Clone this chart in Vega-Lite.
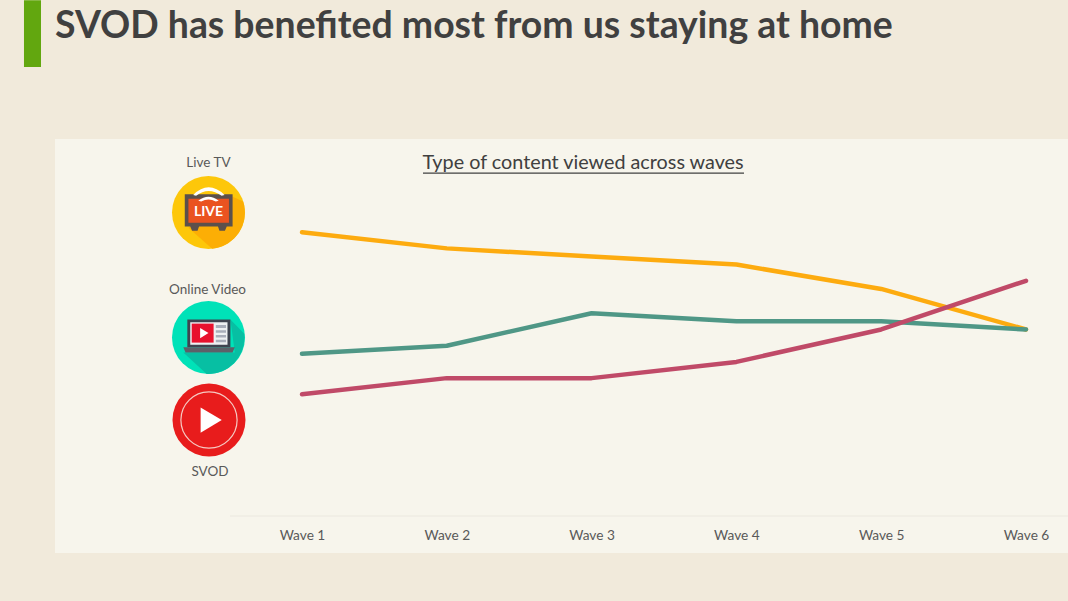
{
  "$schema": "https://vega.github.io/schema/vega-lite/v6.json",
  "description": "Type of content viewed across waves",
  "width": 1013,
  "height": 414,
  "autosize": {"type": "none"},
  "padding": {"left": 55, "top": 139, "right": 0, "bottom": 48},
  "background": "#f1eadb",
  "title": {
    "text": "SVOD has benefited most from us staying at home",
    "anchor": "start",
    "frame": "group",
    "offset": -75,
    "baseline": "alphabetic",
    "font": "Lato",
    "fontWeight": "bold",
    "fontSize": 37.4,
    "color": "#404040"
  },
  "datasets": {
    "waves": [
      {"wave": 1, "series": "Live TV", "share": 35},
      {"wave": 2, "series": "Live TV", "share": 33},
      {"wave": 3, "series": "Live TV", "share": 32},
      {"wave": 4, "series": "Live TV", "share": 31},
      {"wave": 5, "series": "Live TV", "share": 28},
      {"wave": 6, "series": "Live TV", "share": 23},
      {"wave": 1, "series": "Online Video", "share": 20},
      {"wave": 2, "series": "Online Video", "share": 21},
      {"wave": 3, "series": "Online Video", "share": 25},
      {"wave": 4, "series": "Online Video", "share": 24},
      {"wave": 5, "series": "Online Video", "share": 24},
      {"wave": 6, "series": "Online Video", "share": 23},
      {"wave": 1, "series": "SVOD", "share": 15},
      {"wave": 2, "series": "SVOD", "share": 17},
      {"wave": 3, "series": "SVOD", "share": 17},
      {"wave": 4, "series": "SVOD", "share": 19},
      {"wave": 5, "series": "SVOD", "share": 23},
      {"wave": 6, "series": "SVOD", "share": 29}
    ],
    "one": [{}]
  },
  "encoding": {
    "x": {
      "type": "quantitative",
      "scale": {"domain": [-0.7058, 6.2901], "nice": false, "zero": false},
      "axis": {
        "orient": "bottom",
        "title": null,
        "values": [1, 2, 3, 4, 5, 6],
        "labelExpr": "'Wave ' + datum.value",
        "domain": false,
        "ticks": false,
        "grid": false,
        "offset": -18,
        "labelPadding": 0,
        "labelBaseline": "middle",
        "labelFont": "Lato",
        "labelFontSize": 13.7,
        "labelColor": "#595959",
        "labelOverlap": false
      }
    },
    "y": {
      "type": "quantitative",
      "scale": {"domain": [-4.562, 46.486], "nice": false, "zero": false},
      "axis": null
    }
  },
  "layer": [
    {
      "data": {"name": "one"},
      "mark": {"type": "rect", "color": "#62a70f"},
      "encoding": {
        "x": {"datum": -0.92},
        "x2": {"datum": -0.8025},
        "y": {"datum": 63.6},
        "y2": {"datum": 55.36}
      }
    },
    {
      "data": {"name": "one"},
      "mark": {"type": "rule", "color": "#ebe8df", "strokeWidth": 1},
      "encoding": {
        "x": {"datum": 0.5028},
        "x2": {"datum": 6.2901},
        "y": {"datum": 0}
      }
    },
    {
      "data": {"name": "waves"},
      "mark": {"type": "line", "strokeWidth": 4.5, "strokeCap": "round", "strokeJoin": "round"},
      "encoding": {
        "x": {"field": "wave", "type": "quantitative"},
        "y": {"field": "share", "type": "quantitative"},
        "color": {
          "field": "series",
          "type": "nominal",
          "scale": {
            "domain": ["Live TV", "Online Video", "SVOD"],
            "range": ["#fdab0f", "#4f9786", "#c04a68"]
          },
          "legend": null
        }
      }
    },
    {
      "data": {"name": "one"},
      "mark": {"type": "text", "font": "Lato", "fontSize": 19.8, "color": "#404040"},
      "encoding": {
        "x": {"datum": 2.9406},
        "y": {"datum": 43.53},
        "text": {"value": "Type of content viewed across waves"}
      }
    },
    {
      "data": {"name": "one"},
      "mark": {"type": "rule", "color": "#404040", "strokeWidth": 1.3},
      "encoding": {
        "x": {"datum": 1.8356},
        "x2": {"datum": 4.0525},
        "y": {"datum": 42.29}
      }
    },
    {
      "data": {"name": "one"},
      "mark": {"type": "text", "font": "Lato", "fontSize": 13.5, "color": "#595959"},
      "encoding": {
        "x": {"datum": 0.3536},
        "y": {"datum": 43.53},
        "text": {"value": "Live TV"}
      }
    },
    {
      "data": {"name": "one"},
      "mark": {"type": "text", "font": "Lato", "fontSize": 13.5, "color": "#595959"},
      "encoding": {
        "x": {"datum": 0.3474},
        "y": {"datum": 27.87},
        "text": {"value": "Online Video"}
      }
    },
    {
      "data": {"name": "one"},
      "mark": {"type": "text", "font": "Lato", "fontSize": 13.5, "color": "#595959"},
      "encoding": {
        "x": {"datum": 0.3646},
        "y": {"datum": 5.37},
        "text": {"value": "SVOD"}
      }
    },
    {
      "data": {"name": "one"},
      "encoding": {"x": {"datum": 0.3543}, "y": {"datum": 37.42}},
      "layer": [
        {"mark": {"type": "point", "filled": true, "opacity": 1, "size": 5329, "shape": "circle", "color": "#fdc70a"}},
        {"mark": {"type": "point", "filled": true, "opacity": 1, "size": 5329, "color": "#fcae05", "shape": "M0.62,-0.45 L0.95,-0.3 A1,1 0 0 1 0.1,0.995 L-0.55,0.42 Z"}},
        {"mark": {"type": "point", "filled": true, "opacity": 1, "size": 5329, "color": "#5b504c", "shape": "M-0.65,-0.5 H0.66 V0.38 H0.5 L0.45,0.5 H0.3 L0.26,0.38 H-0.26 L-0.3,0.5 H-0.45 L-0.5,0.38 H-0.65 Z"}},
        {"mark": {"type": "point", "filled": true, "opacity": 1, "size": 5329, "color": "#ea5320", "shape": "M-0.55,-0.38 H0.56 V0.28 H-0.55 Z"}},
        {"mark": {"type": "point", "filled": true, "opacity": 1, "size": 5329, "color": "#ffffff", "shape": "M-0.42,-0.48 Q0,-0.9 0.44,-0.48 L0.36,-0.46 Q0,-0.72 -0.34,-0.46 Z M-0.28,-0.32 Q0,-0.55 0.28,-0.32 L0.2,-0.3 Q0,-0.42 -0.2,-0.3 Z"}},
        {
          "mark": {"type": "text", "font": "Lato", "fontWeight": "bold", "fontSize": 14, "color": "#ffffff", "dy": -1},
          "encoding": {"text": {"value": "LIVE"}}
        }
      ]
    },
    {
      "data": {"name": "one"},
      "encoding": {"x": {"datum": 0.3543}, "y": {"datum": 22.01}},
      "layer": [
        {"mark": {"type": "point", "filled": true, "opacity": 1, "size": 5329, "shape": "circle", "color": "#00e2b8"}},
        {"mark": {"type": "point", "filled": true, "opacity": 1, "size": 5329, "color": "#07bfa3", "shape": "M0.6,-0.49 L0.98,-0.1 A1,1 0 0 1 -0.05,0.998 L-0.69,0.41 H0.72 Z"}},
        {"mark": {"type": "point", "filled": true, "opacity": 1, "size": 5329, "color": "#3f4450", "shape": "M-0.58,-0.49 H0.6 V0.27 H-0.58 Z"}},
        {"mark": {"type": "point", "filled": true, "opacity": 1, "size": 5329, "color": "#5d6068", "shape": "M-0.69,0.27 H0.72 L0.66,0.41 H-0.63 Z"}},
        {"mark": {"type": "point", "filled": true, "opacity": 1, "size": 5329, "color": "#eef0f2", "shape": "M-0.5,-0.42 H0.52 V0.2 H-0.5 Z"}},
        {"mark": {"type": "point", "filled": true, "opacity": 1, "size": 5329, "color": "#e8112d", "shape": "M-0.46,-0.38 H0.14 V0.14 H-0.46 Z"}},
        {"mark": {"type": "point", "filled": true, "opacity": 1, "size": 5329, "color": "#ffffff", "shape": "M-0.23,-0.26 L0,-0.12 L-0.23,0.02 Z"}},
        {"mark": {"type": "point", "filled": true, "opacity": 1, "size": 5329, "color": "#a9aeba", "shape": "M0.2,-0.34 H0.48 V-0.26 H0.2 Z M0.2,-0.2 H0.48 V-0.13 H0.2 Z M0.2,-0.07 H0.48 V0 H0.2 Z M0.2,0.06 H0.48 V0.13 H0.2 Z"}}
      ]
    },
    {
      "data": {"name": "one"},
      "encoding": {"x": {"datum": 0.3577}, "y": {"datum": 11.84}},
      "layer": [
        {"mark": {"type": "point", "filled": true, "opacity": 1, "size": 5329, "shape": "circle", "color": "#e81c1c"}},
        {"mark": {"type": "point", "filled": false, "opacity": 1, "size": 3160, "shape": "circle", "color": "#f6c9c2", "strokeWidth": 1.2}},
        {"mark": {"type": "point", "filled": true, "opacity": 1, "size": 5329, "color": "#ffffff", "shape": "M-0.23,-0.34 L0.35,0 L-0.23,0.35 Z"}}
      ]
    }
  ],
  "config": {
    "view": {"fill": "#f7f5ec", "stroke": null}
  }
}
